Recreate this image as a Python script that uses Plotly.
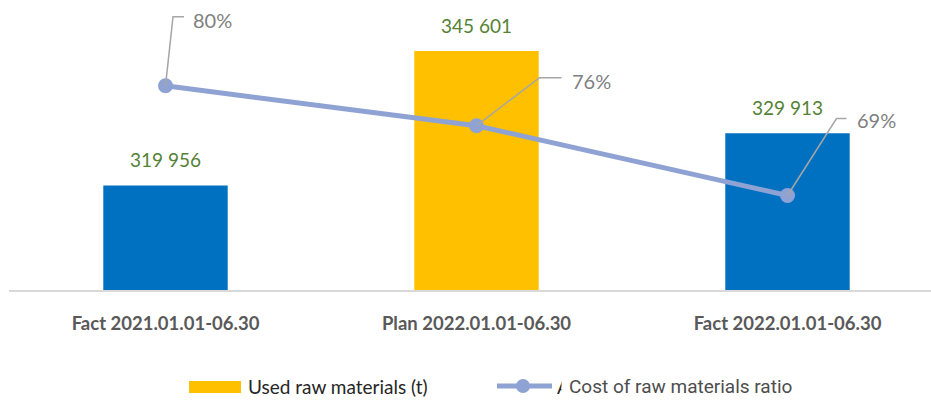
import plotly.graph_objects as go

# --- data -------------------------------------------------------------
categories = ["Fact 2021.01.01-06.30", "Plan 2022.01.01-06.30", "Fact 2022.01.01-06.30"]
used_raw_materials = [319956, 345601, 329913]
cost_ratio = [0.80, 0.76, 0.69]
bar_colors = ["#0070C0", "#FFC000", "#0070C0"]

# --- layout geometry (pixels) -----------------------------------------
FIG_W, FIG_H = 931, 401
M_L, M_R, M_T, M_B = 9, 0, 4, 111
PLOT_W = FIG_W - M_L - M_R
PLOT_H = FIG_H - M_T - M_B
PLOT_BOTTOM = FIG_H - M_B

# value axis: starts at 300 000, ~190.8 t per pixel
Y_MIN = 300000
Y_PER_PX = 190.8
# ratio axis: 0.5952 at the baseline, ~9.97 px per percentage point
R_MIN = 0.5952
R_PER_PX = 0.01 / 9.97

# pixel offsets for the leader lines / labels of the ratio points
# (elbow dx, elbow dy, end dx, label dx, label dy)
ratio_label_offsets = [
    (7.5, 69, 18.5, 47, 66),
    (63, 48, 85, 115, 45),
    (49, 77, 59, 89, 75),
]


def px_x(px):
    return (px - M_L) / PLOT_W


def px_y(py):
    return (PLOT_BOTTOM - py) / PLOT_H


fig = go.Figure()

fig.add_trace(go.Bar(
    x=list(range(len(categories))),
    y=used_raw_materials,
    marker=dict(color=bar_colors, line=dict(width=0)),
    width=0.40,
    name="Used raw materials (t)",
    showlegend=False,
    hoverinfo="skip",
))

fig.add_trace(go.Scatter(
    x=list(range(len(categories))),
    y=cost_ratio,
    yaxis="y2",
    mode="lines+markers",
    line=dict(color="#8FA2D4", width=5),
    marker=dict(color="#8FA2D4", size=15),
    name="Cost of raw materials ratio",
    showlegend=False,
    hoverinfo="skip",
    cliponaxis=False,
))

annotations = []
shapes = []

# value labels above bars
for i, v in enumerate(used_raw_materials):
    annotations.append(dict(
        x=i, y=v, xref="x", yref="y",
        text=f"{v:,}".replace(",", " "),
        showarrow=False, yanchor="middle", yshift=26,
        font=dict(family="Lato", size=19, color="#548235"),
    ))

# ratio labels with elbow leader lines
for i, (r, off) in enumerate(zip(cost_ratio, ratio_label_offsets)):
    ex, ey, endx, lx, ly = off
    shapes.append(dict(
        type="path", xref="x", yref="y2",
        xsizemode="pixel", ysizemode="pixel",
        xanchor=i, yanchor=r,
        path=f"M0,0 L{ex},{ey} L{endx},{ey}",
        line=dict(color="#A6A6A6", width=1.5),
        layer="above",
    ))
    annotations.append(dict(
        x=i, y=r, xref="x", yref="y2",
        text=f"{round(r * 100)}%",
        showarrow=False, xanchor="center", yanchor="middle",
        xshift=lx, yshift=ly,
        font=dict(family="Lato", size=20, color="#7F7F7F"),
    ))

# legend
shapes.append(dict(
    type="rect", xref="paper", yref="paper",
    x0=px_x(189), x1=px_x(241), y0=px_y(393), y1=px_y(381),
    fillcolor="#FFC000", line=dict(width=0),
))
annotations.append(dict(
    x=px_x(246), y=px_y(386), xref="paper", yref="paper",
    text="Used raw materials (t)", showarrow=False,
    xanchor="left", yanchor="middle",
    font=dict(family="Lato", size=19, color="#262626"),
))
shapes.append(dict(
    type="line", xref="paper", yref="paper",
    x0=px_x(497), x1=px_x(552), y0=px_y(386), y1=px_y(386),
    line=dict(color="#8FA2D4", width=5),
))
shapes.append(dict(
    type="circle", xref="paper", yref="paper",
    x0=px_x(516), x1=px_x(530), y0=px_y(393), y1=px_y(379),
    fillcolor="#8FA2D4", line=dict(width=0),
))
annotations.append(dict(
    x=px_x(555), y=px_y(386), xref="paper", yref="paper",
    text="A", showarrow=False, xanchor="left", yanchor="middle",
    font=dict(family="Lato", size=19, color="#262626"),
))
annotations.append(dict(
    x=px_x(561), y=px_y(386), xref="paper", yref="paper",
    text="Cost of raw materials ratio", showarrow=False,
    xanchor="left", yanchor="middle", bgcolor="#FFFFFF", borderpad=7,
    font=dict(family="Roboto", size=19, color="#4D4D4D"),
))
shapes.append(dict(
    type="line", xref="paper", yref="paper",
    x0=px_x(644), x1=px_x(666), y0=px_y(399), y1=px_y(399),
    line=dict(color="#E04040", width=1.2, dash="dot"),
))

fig.update_layout(
    width=FIG_W, height=FIG_H,
    margin=dict(l=M_L, r=M_R, t=M_T, b=M_B),
    paper_bgcolor="#FFFFFF", plot_bgcolor="#FFFFFF",
    showlegend=False,
    xaxis=dict(
        range=[-(165.5 - M_L) / 311, -(165.5 - M_L) / 311 + PLOT_W / 311],
        tickmode="array", tickvals=list(range(len(categories))), ticktext=categories,
        tickfont=dict(family="Lato", size=18.5, color="#595959", weight="bold"),
        showline=True, linecolor="#D9D9D9", linewidth=1.5,
        showgrid=False, zeroline=False, ticks="", ticklabelstandoff=16,
        fixedrange=True,
    ),
    yaxis=dict(
        range=[Y_MIN, Y_MIN + PLOT_H * Y_PER_PX],
        visible=False, showgrid=False, zeroline=False,
    ),
    yaxis2=dict(
        range=[R_MIN, R_MIN + PLOT_H * R_PER_PX],
        overlaying="y", side="right", visible=False,
        showgrid=False, zeroline=False,
    ),
    annotations=annotations,
    shapes=shapes,
)

fig.write_html("out.html")
